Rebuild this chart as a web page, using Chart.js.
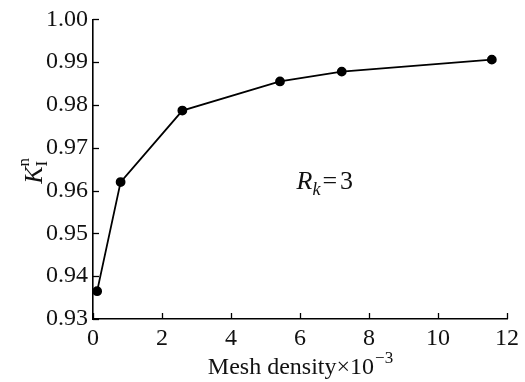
<!DOCTYPE html>
<html>
<head>
<meta charset="utf-8">
<script src="https://cdn.jsdelivr.net/npm/chart.js@4/dist/chart.umd.min.js"></script>
<style>
  html, body { margin: 0; padding: 0; background: #fff; }
  #wrap { width: 525px; height: 382px; }
</style>
</head>
<body>
<div id="wrap"><canvas id="meshChart"></canvas></div>
<script>
// mesh density (x 10^-3) and normalised SIF
const meshDensity = [0.12, 0.8, 2.59, 5.42, 7.21, 11.56];
const kValues = [0.9365, 0.962, 0.9787, 0.9855, 0.9878, 0.9906];
const xTicks = [0, 2, 4, 6, 8, 10, 12];
const yTicks = [0.93, 0.94, 0.95, 0.96, 0.97, 0.98, 0.99, 1.00];

const FONT = '"Liberation Serif", "DejaVu Serif", serif';

// ticks pointing inward, like the original figure
const innerTicks = {
    id: 'innerTicks',
    afterDraw(chart) {
        const { ctx, scales: { x, y } } = chart;
        ctx.save();
        ctx.strokeStyle = '#000';
        ctx.lineWidth = 1.3;
        xTicks.forEach(v => {
            const px = Math.round(x.getPixelForValue(v)) + 0.5;
            ctx.beginPath();
            ctx.moveTo(px, y.bottom);
            ctx.lineTo(px, y.bottom - 6);
            ctx.stroke();
        });
        yTicks.forEach(v => {
            const py = Math.round(y.getPixelForValue(v)) + 0.5;
            ctx.beginPath();
            ctx.moveTo(x.left, py);
            ctx.lineTo(x.left + 6, py);
            ctx.stroke();
        });
        ctx.restore();
    }
};

// axis titles and the R_k = 3 note (need sub/superscripts)
const labels = {
    id: 'labels',
    afterDraw(chart) {
        const { ctx, scales: { x, y } } = chart;
        ctx.save();
        ctx.fillStyle = '#111';
        ctx.textBaseline = 'alphabetic';

        // x title: Mesh density×10^-3
        ctx.font = '24px ' + FONT;
        const main = 'Mesh density×10';
        const sup = '−3';
        const wMain = ctx.measureText(main).width;
        ctx.font = '17px ' + FONT;
        const wSup = ctx.measureText(sup).width;
        const cx = (x.left + x.right) / 2;
        const sx = cx - (wMain + wSup) / 2;
        const baseY = 374;
        ctx.font = '24px ' + FONT;
        ctx.fillText(main, sx, baseY);
        ctx.font = '17px ' + FONT;
        ctx.fillText(sup, sx + wMain + 1, baseY - 11);

        // y title: K_I^n rotated
        ctx.save();
        ctx.translate(42, (y.top + y.bottom) / 2);
        ctx.rotate(-Math.PI / 2);
        ctx.font = 'italic 26px ' + FONT;
        const wK = ctx.measureText('K').width;
        ctx.fillText('K', -wK / 2 - 6, 0);
        ctx.font = '17px ' + FONT;
        ctx.fillText('I', wK / 2 - 6, 5);
        ctx.fillText('n', wK / 2 - 6, -13);
        ctx.restore();

        // R_k = 3
        const ax = x.getPixelForValue(5.9);
        const ay = y.getPixelForValue(0.9604);
        ctx.font = 'italic 26px ' + FONT;
        ctx.fillText('R', ax, ay);
        const wR = ctx.measureText('R').width;
        ctx.font = 'italic 18px ' + FONT;
        ctx.fillText('k', ax + wR, ay + 6);
        const wk = ctx.measureText('k').width;
        ctx.font = '26px ' + FONT;
        const eqX = ax + wR + wk + 2;
        ctx.fillText('=', eqX, ay);
        ctx.fillText('3', eqX + ctx.measureText('=').width + 3, ay);
        ctx.restore();
    }
};

new Chart(document.getElementById('meshChart'), {
    type: 'line',
    data: {
        datasets: [{
            data: meshDensity.map((m, i) => ({ x: m, y: kValues[i] })),
            borderColor: '#000',
            borderWidth: 1.8,
            pointBackgroundColor: '#000',
            pointBorderColor: '#000',
            pointRadius: 4,
            tension: 0,
            fill: false
        }]
    },
    options: {
        responsive: true,
        maintainAspectRatio: false,
        animation: false,
        layout: { padding: { left: 0, right: 18, top: 14, bottom: 0 } },
        plugins: { legend: { display: false }, tooltip: { enabled: false } },
        scales: {
            x: {
                type: 'linear',
                min: 0, max: 12,
                afterBuildTicks: s => { s.ticks = xTicks.map(v => ({ value: v })); },
                afterFit: s => { s.height = 63; },
                grid: { display: false, drawTicks: false },
                border: { display: true, color: '#000', width: 1.6 },
                ticks: { color: '#111', padding: 5, font: { family: FONT, size: 24 } }
            },
            y: {
                min: 0.93, max: 1.00,
                afterBuildTicks: s => { s.ticks = yTicks.map(v => ({ value: v })); },
                afterFit: s => { s.width = 93; },
                grid: { display: false, drawTicks: false },
                border: { display: true, color: '#000', width: 1.6 },
                ticks: {
                    color: '#111', padding: 5,
                    font: { family: FONT, size: 24 },
                    callback: v => v.toFixed(2)
                }
            }
        }
    },
    plugins: [innerTicks, labels]
});
</script>
</body>
</html>
